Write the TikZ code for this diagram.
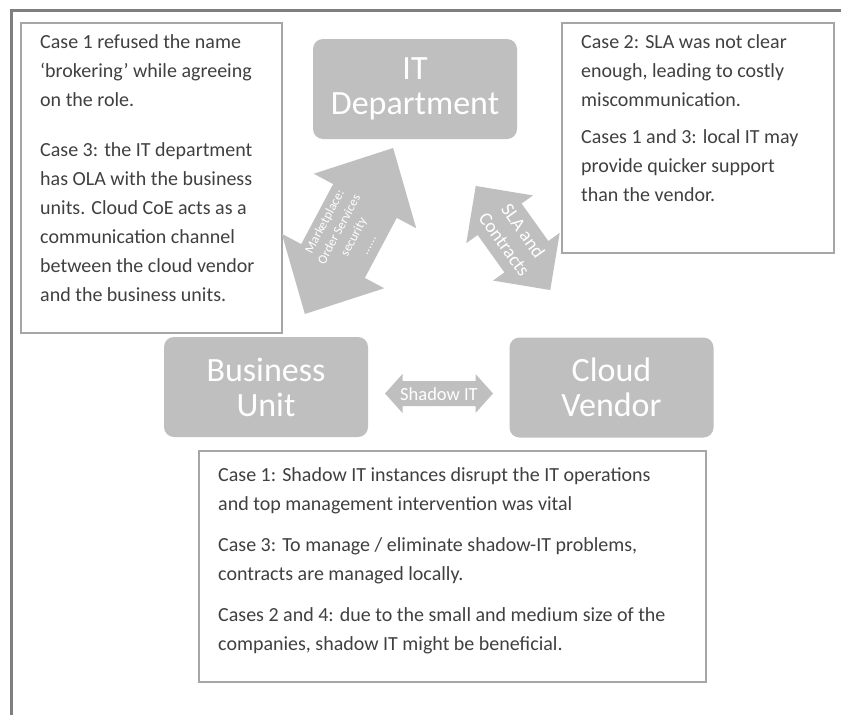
\documentclass[tikz,border=0pt]{standalone}
\usepackage{fontspec}
\setmainfont{Carlito}
\definecolor{shapegray}{HTML}{BFBFBF}
\definecolor{boxline}{HTML}{A6A6A6}
\definecolor{framegray}{HTML}{7F7F7F}
\definecolor{txt}{HTML}{404040}
\tikzset{
  block/.style={fill=shapegray, rounded corners=10pt, minimum width=204pt, minimum height=100pt,
    inner sep=0pt, text=white, align=center, font=\fontsize{34}{35}\selectfont},
  notebox/.style={draw=boxline, line width=1.5pt, anchor=north west, inner sep=0pt},
  notetext/.style={anchor=base west, inner sep=0pt, text=txt},
  arrowfill/.style={fill=shapegray},
  arrowlabel/.style={text=white, align=center, inner sep=0pt},
}
\newcommand{\notepar}[2]{\parbox[t]{#1}{\fontsize{20}{29}\selectfont\raggedright #2}}
\begin{document}
\begin{tikzpicture}[x=1pt,y=-1pt]
\useasboundingbox (0,0) rectangle (841,715);
\fill[white] (0,0) rectangle (841,715);
\draw[framegray, line width=3.5pt] (11.5,760) -- (11.5,10.5) -- (900,10.5);

% main blocks
\node[block] (it) at (415,89) {IT\\Department};
\node[block] (bu) at (266,387) {Business\\Unit};
\node[block] (cv) at (611.5,387.5) {Cloud\\Vendor};

% note boxes
\node[notebox, minimum width=261pt, minimum height=310pt] (lbox) at (20,22) {};
\node[notebox, minimum width=272pt, minimum height=230pt] (rbox) at (561,22) {};
\node[notebox, minimum width=507pt, minimum height=231pt] (bbox) at (198,450) {};

\node[notetext] (ltext) at (40,48) {\notepar{300pt}{Case 1 refused the name\\‘brokering’ while agreeing\\on the role.\\[21pt]Case 3: the IT department\\has OLA with the business\\units. Cloud CoE acts as a\\communication channel\\between the cloud vendor\\and the business units.}};
\node[notetext] (rtext) at (581,48) {\notepar{300pt}{Case 2: SLA was not clear\\enough, leading to costly\\miscommunication.\\[8pt]Cases 1 and 3: local IT may\\provide quicker support\\than the vendor.}};
\node[notetext] (btext) at (218,481) {\notepar{500pt}{Case 1: Shadow IT instances disrupt the IT operations\\and top management intervention was vital\\[12pt]Case 3: To manage / eliminate shadow-IT problems,\\contracts are managed locally.\\[12pt]Cases 2 and 4: due to the small and medium size of the\\companies, shadow IT might be beneficial.}};

% block arrow between business unit and IT department
\begin{scope}[shift={(349,231)}, rotate=62]
\fill[arrowfill] (94,0) -- (34,58) -- (34,36) -- (-34,36) -- (-34,58) -- (-94,0)
  -- (-34,-58) -- (-34,-36) -- (34,-36) -- (34,-58) -- cycle;
\end{scope}
\node[arrowlabel, rotate=62, font=\fontsize{13}{16.5}\selectfont] (mkt) at (346,233)
  {Marketplace:\\Order Services\\security\\......};

% block arrow between IT department and cloud vendor
\begin{scope}[shift={(513,238)}, rotate=-54.4]
\fill[arrowfill] (64,0) -- (23,41) -- (23,27) -- (-23,27) -- (-23,41) -- (-64,0)
  -- (-23,-41) -- (-23,-27) -- (23,-27) -- (23,-41) -- cycle;
\end{scope}
\node[arrowlabel, rotate=-54.5, font=\fontsize{19}{23}\selectfont] (sla) at (514,237.5)
  {SLA and\\Contracts};

% block arrow between business unit and cloud vendor
\fill[arrowfill] (385,393.5) -- (402.5,374) -- (402.5,381) -- (475.5,381) -- (475.5,374)
  -- (493,393.5) -- (475.5,413) -- (475.5,406) -- (402.5,406) -- (402.5,413) -- cycle;
\node[arrowlabel, font=\fontsize{18.5}{20}\selectfont] (shadow) at (439,394) {Shadow IT};
\end{tikzpicture}
\end{document}
